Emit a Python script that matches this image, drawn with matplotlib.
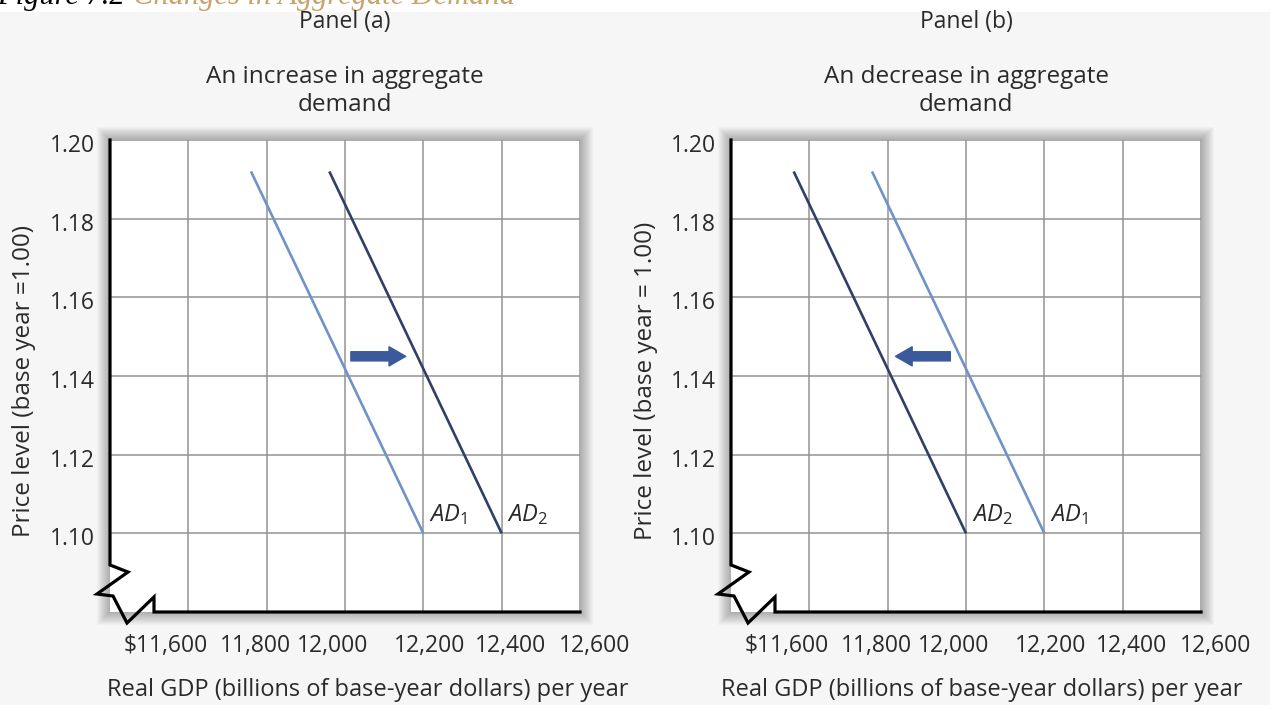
import matplotlib
matplotlib.use("Agg")
import matplotlib.pyplot as plt
from matplotlib import patches, transforms
from matplotlib.lines import Line2D

# ---------------- data ----------------
x_ticks = [11600, 11800, 12000, 12200, 12400, 12600]
x_tick_labels = ["\\$11,600", "11,800", "12,000", "12,200", "12,400", "12,600"]
y_ticks = [1.10, 1.12, 1.14, 1.16, 1.18, 1.20]
y_tick_labels = ["1.10", "1.12", "1.14", "1.16", "1.18", "1.20"]
x_limits = (11400, 12600)
y_limits = (1.08, 1.20)

price_levels = [1.192, 1.10]           # top and bottom of each AD curve
ad1_gdp = [11760, 12200]               # AD1 (both panels)
ad2_increase_gdp = [11960, 12400]      # AD2, panel (a)
ad2_decrease_gdp = [11560, 12000]      # AD2, panel (b)

arrow_price = 1.145
arrow_a_gdp = [12015, 12155]           # start, end (shift right)
arrow_b_gdp = [11960, 11820]           # start, end (shift left)

panel_names = ["Panel (a)", "Panel (b)"]
panel_titles = ["An increase in aggregate\ndemand", "An decrease in aggregate\ndemand"]
y_labels = ["Price level (base year =1.00)", "Price level (base year = 1.00)"]
x_label = "Real GDP (billions of base-year dollars) per year"
caption_number = "Figure 7.2"
caption_title = "Changes in Aggregate Demand"

# ---------------- style ----------------
FONT = "Open Sans"
plt.rcParams["font.family"] = [FONT, "DejaVu Sans"]
plt.rcParams["mathtext.fontset"] = "custom"
plt.rcParams["mathtext.rm"] = FONT
plt.rcParams["mathtext.it"] = FONT + ":italic"

LIGHT = "#6f93c6"
DARK = "#2f3f68"
ARROW = "#3a5a9c"
GRID = "#939393"
TEXT = "#2a2a2a"

W, H = 1270, 705
fig = plt.figure(figsize=(W / 100, H / 100), dpi=100, facecolor="#f6f6f6")
renderer = fig.canvas.get_renderer()

# white strip behind the clipped figure caption
fig.patches.append(patches.Rectangle((0, 1 - 12 / H), 1, 12 / H, transform=fig.transFigure,
                                     facecolor="white", edgecolor="none", zorder=-2))
cap1 = fig.text(-0.002, 1 - 4 / H, caption_number, family="Liberation Serif", style="italic",
                fontsize=22, color="black", va="baseline", ha="left")
cap_end = cap1.get_window_extent(renderer=renderer).x1
fig.text((cap_end + 8) / W, 1 - 4 / H, caption_title, family="Liberation Serif",
         style="italic", fontsize=22, color="#c8a36b", va="baseline", ha="left")

ax_px = [(110, 140, 580, 612), (731, 140, 1201, 612)]   # left, top, right, bottom in pixels
tick_dx = [-23, -11, -12, 6, 9, 15]                      # label offsets (px) as in original
ad2_sets = [ad2_increase_gdp, ad2_decrease_gdp]
arrows = [arrow_a_gdp, arrow_b_gdp]
xlab_cx = [368, 982]
ylab_cx = [24, 646]

# zigzag axis break outline (axes fraction coords)
break_x = [0, 0, 0.0383, -0.0277, 0.0064, 0.0362, 0.0936, 0.0936, 1]
break_y = [1, 0.0996, 0.0847, 0.0381, 0.0339, -0.0233, 0.0318, 0, 0]

for i in range(2):
    l, t, r, b = ax_px[i]
    ax = fig.add_axes([l / W, 1 - b / H, (r - l) / W, (b - t) / H])
    ax.set_facecolor("white")
    ax.set_zorder(1)

    # soft drop shadow
    for k in range(1, 14):
        fig.patches.append(patches.Rectangle(((l - k) / W, 1 - (b + k) / H), (r - l + 2 * k) / W,
                                             (b - t + 2 * k) / H, transform=fig.transFigure,
                                             facecolor="black", edgecolor="none", alpha=0.024,
                                             zorder=-1))

    ax.set_xlim(*x_limits)
    ax.set_ylim(*y_limits)
    ax.set_xticks(x_ticks)
    ax.set_xticklabels(x_tick_labels)
    ax.set_yticks(y_ticks)
    ax.set_yticklabels(y_tick_labels)
    ax.tick_params(axis="both", length=0, labelsize=16.5, labelcolor=TEXT)
    ax.tick_params(axis="x", pad=16)
    ax.tick_params(axis="y", pad=11)
    for lab, dx in zip(ax.get_xticklabels(), tick_dx):
        lab.set_transform(lab.get_transform() + transforms.ScaledTranslation(dx / 100, 0, fig.dpi_scale_trans))
    for lab in ax.get_yticklabels():
        lab.set_transform(lab.get_transform() + transforms.ScaledTranslation(0, -3 / 100, fig.dpi_scale_trans))

    ax.grid(True, color=GRID, lw=1.1)
    ax.set_axisbelow(True)
    for s in ax.spines.values():
        s.set_visible(False)

    ax.add_line(Line2D(break_x, break_y, transform=ax.transAxes, color="black", lw=2.3,
                       solid_joinstyle="miter", clip_on=False, zorder=5))

    # AD curves
    ax.plot(ad1_gdp, price_levels, color=LIGHT, lw=1.9, solid_capstyle="butt", zorder=3)
    ax.plot(ad2_sets[i], price_levels, color=DARK, lw=1.9, solid_capstyle="butt", zorder=3)
    for gdp, sub in ((ad1_gdp, "1"), (ad2_sets[i], "2")):
        ax.annotate(r"$AD_{%s}$" % sub, xy=(gdp[1], price_levels[1]), xytext=(4, 9),
                    textcoords="offset points", fontsize=17, color=TEXT,
                    ha="left", va="baseline")

    # shift arrow
    a = arrows[i]
    ax.annotate("", xy=(a[1], arrow_price), xytext=(a[0], arrow_price),
                arrowprops=dict(arrowstyle="simple,head_length=1.0,head_width=1.15,tail_width=0.55",
                                color=ARROW, shrinkA=0, shrinkB=0, mutation_scale=12), zorder=4)

    # labels
    ax.set_xlabel(x_label, fontsize=17, color=TEXT)
    ax.xaxis.set_label_coords((xlab_cx[i] - l) / (r - l), (b - 690) / (b - t))
    ax.xaxis.label.set_va("center")
    ax.set_ylabel(y_labels[i], fontsize=17.5, color=TEXT)
    ax.yaxis.set_label_coords((ylab_cx[i] - l) / (r - l), 0.49)
    ax.yaxis.label.set_va("center")

    cx = (l + r) / 2 / W
    fig.text(cx, 1 - 22 / H, panel_names[i], ha="center", va="center", fontsize=16.5, color=TEXT)
    fig.text(cx, 1 - 91 / H, panel_titles[i], ha="center", va="center", fontsize=17.5,
             color=TEXT, linespacing=1.25)

fig.savefig("out.png", dpi=100, facecolor=fig.get_facecolor())
